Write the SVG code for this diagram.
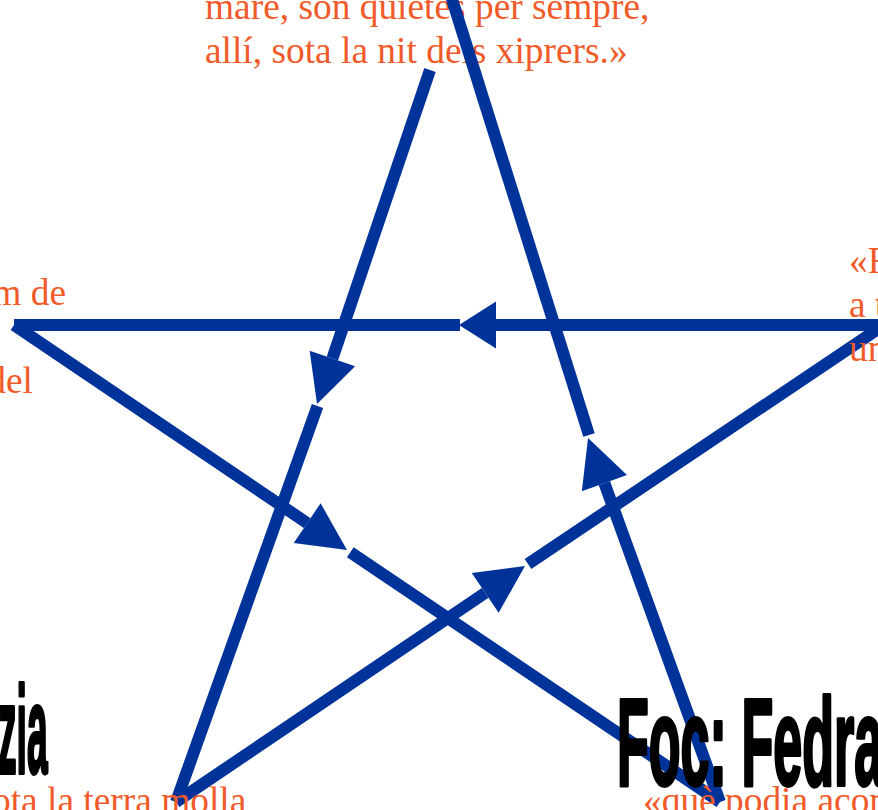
<svg xmlns="http://www.w3.org/2000/svg" width="878" height="810" viewBox="0 0 878 810">
<style>
.t{font-family:"Liberation Serif","Times New Roman",serif;font-size:37.4px;fill:#F15A29}
.h{font-family:"Liberation Sans",Arial,sans-serif;font-weight:bold;font-size:124px;fill:#000;stroke:#000;stroke-width:4;stroke-linejoin:round}
.c{fill:none;stroke:#003399;stroke-width:12;stroke-linecap:butt}
</style>
<defs>
<marker id="ah" markerUnits="userSpaceOnUse" markerWidth="48" markerHeight="48" viewBox="0 0 48 48" refX="0" refY="24" orient="auto" overflow="visible"><path d="M0,0 L48,24 L0,48 Z" fill="#003399"/></marker>
<marker id="ah2" markerUnits="userSpaceOnUse" markerWidth="37" markerHeight="47" viewBox="0 0 37 47" refX="0" refY="23.5" orient="auto" overflow="visible"><path d="M0,0 L37,23.5 L0,47 Z" fill="#003399"/></marker>
</defs>
<rect width="878" height="810" fill="#fff"/>
<g id="node-top">
<text class="t" x="205" y="19">mare, son quietes per sempre,</text>
<text class="t" x="205" y="63">allí, sota la nit dels xiprers.»</text>
</g>
<g id="connectors">
<path class="c" d="M884,325 L496,325" marker-end="url(#ah2)"/>
<path class="c" d="M460,325 L14,325"/>
<path class="c" d="M14,325 L307.2,523.1" marker-end="url(#ah)"/>
<path class="c" d="M350.3,552.2 L720,802"/>
<path class="c" d="M720,802 L604.4,483.1" marker-end="url(#ah)"/>
<path class="c" d="M589,435 L451,-4"/>
<path class="c" d="M430,70 L332.4,358.5" marker-end="url(#ah)"/>
<path class="c" d="M317.5,406 L176,802"/>
<path class="c" d="M176,802 L485.2,592.9" marker-end="url(#ah)"/>
<path class="c" d="M528,564 L884,325"/>
</g>
<g id="node-left">
<text class="t" x="66" y="305" text-anchor="end">m de</text>
<text class="t" x="33" y="393" text-anchor="end">del</text>
</g>
<g id="node-right">
<text class="t" x="849" y="273">«F</text>
<text class="t" x="849" y="317">a t</text>
<text class="t" x="849" y="361">un</text>
</g>
<g id="node-bottom-left">
<text class="h" transform="translate(-2,773) scale(0.3,1)">zia</text>
<text class="t" x="-8" y="813">ota la terra molla</text>
</g>
<g id="node-bottom-right">
<text class="h" transform="translate(617,785) scale(0.42,1)">Foc: Fedra</text>
<text class="t" x="643" y="813">«què podia acon</text>
</g>
</svg>
